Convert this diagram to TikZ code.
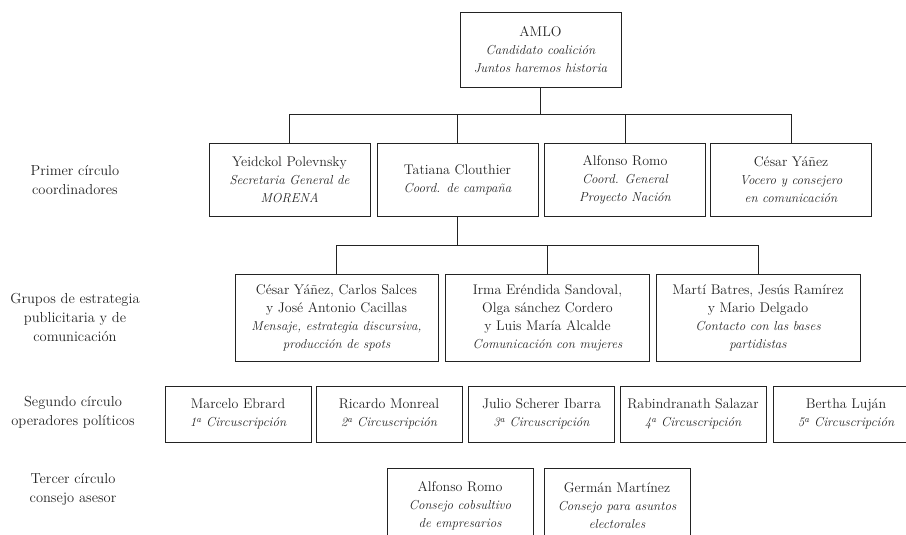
\documentclass[tikz,border=0pt]{standalone}
\usepackage{tikz}
\usetikzlibrary{positioning}
\definecolor{ink}{RGB}{35,35,35}
\tikzstyle{line} = [draw=ink, line width=0.9pt]
\newcommand{\cargo}[1]{{\itshape\fontsize{13}{18}\selectfont #1}}

\begin{document}
\begin{tikzpicture}[x=1pt, y=-1pt, node distance=150pt]
        \tikzstyle{block} = [rectangle, draw=ink, line width=0.9pt, align=center,
        inner sep=2pt, font=\fontsize{14}{18}\selectfont, text=ink]
        \tikzstyle{tier} = [align=center, font=\fontsize{14.5}{19}\selectfont, text=ink]

        \useasboundingbox (0,0) rectangle (906,535);

        % cabeza
        \node [block, minimum width=161pt, minimum height=75pt] (node0) at (540.5,49.5)
            {AMLO\\\cargo{Candidato coalición}\\\cargo{Juntos haremos historia}};

        % primer circulo
        \node [block, minimum width=161pt, minimum height=73pt] (node1) at (289.5,179.5)
            {Yeidckol Polevnsky\\\cargo{Secretaria General de}\\\cargo{MORENA}};
        \node [block, minimum width=161pt, minimum height=73pt, right of=node1, xshift=18pt] (node2)
            {Tatiana Clouthier\\\cargo{Coord. de campaña}};
        \node [block, minimum width=161pt, minimum height=73pt, right of=node2, xshift=17.5pt] (node3)
            {Alfonso Romo\\\cargo{Coord. General}\\\cargo{Proyecto Nación}};
        \node [block, minimum width=161pt, minimum height=73pt, right of=node3, xshift=16pt] (node4)
            {César Yáñez\\\cargo{Vocero y consejero}\\\cargo{en comunicación}};

        % grupos de estrategia
        \node [block, minimum width=203pt, minimum height=87pt] (node5) at (336.5,317.5)
            {César Yáñez, Carlos Salces\\y José Antonio Cacillas\\\cargo{Mensaje, estrategia discursiva,}\\\cargo{producción de spots}};
        \node [block, minimum width=204pt, minimum height=87pt, right of=node5, xshift=61pt] (node6)
            {Irma Eréndida Sandoval,\\Olga sánchez Cordero\\y Luis María Alcalde\\\cargo{Comunicación con mujeres}};
        \node [block, minimum width=204pt, minimum height=87pt, right of=node6, xshift=60.5pt] (node7)
            {Martí Batres, Jesús Ramírez\\y Mario Delgado\\\cargo{Contacto con las bases}\\\cargo{partidistas}};

        % segundo circulo
        \node [block, minimum width=146pt, minimum height=56pt] (node8) at (238,414)
            {Marcelo Ebrard\\\cargo{1\textsuperscript{a} Circuscripción}};
        \node [block, minimum width=146pt, minimum height=56pt, right of=node8, xshift=1pt] (node9)
            {Ricardo Monreal\\\cargo{2\textsuperscript{a} Circuscripción}};
        \node [block, minimum width=146pt, minimum height=56pt, right of=node9, xshift=2.5pt] (node10)
            {Julio Scherer Ibarra\\\cargo{3\textsuperscript{a} Circuscripción}};
        \node [block, minimum width=146pt, minimum height=56pt, right of=node10, xshift=1.5pt] (node11)
            {Rabindranath Salazar\\\cargo{4\textsuperscript{a} Circuscripción}};
        \node [block, minimum width=146pt, minimum height=56pt, right of=node11, xshift=3pt] (node12)
            {Bertha Luján\\\cargo{5\textsuperscript{a} Circuscripción}};

        % tercer circulo
        \node [block, minimum width=146pt, minimum height=75pt] (node13) at (460,505.5)
            {Alfonso Romo\\\cargo{Consejo cobsultivo}\\\cargo{de empresarios}};
        \node [block, minimum width=146pt, minimum height=75pt, right of=node13, xshift=7pt] (node14)
            {Germán Martínez\\\cargo{Consejo para asuntos}\\\cargo{electorales}};

        % niveles
        \node [tier] (tier1) at (75,180) {Primer círculo\\coordinadores};
        \node [tier] (tier2) at (75,317) {Grupos de estrategia\\publicitaria y de\\comunicación};
        \node [tier] (tier3) at (73,412) {Segundo círculo\\operadores políticos};
        \node [tier] (tier4) at (73,489) {Tercer círculo\\consejo asesor};

        \coordinate (bus1) at (0,114);
        \coordinate (bus2) at (0,245);

        \draw [line] (node0.south) -- (node0.south |- bus1);
        \draw [line] (node1.north) |- (bus1 -| node4) -- (node4.north);
        \draw [line] (node2.north) -- (node2.north |- bus1);
        \draw [line] (node3.north) -- (node3.north |- bus1);

        \draw [line] (node2.south) -- (node2.south |- bus2);
        \draw [line] (node5.north) |- (bus2 -| node7) -- (node7.north);
        \draw [line] (node6.north) -- (node6.north |- bus2);
    \end{tikzpicture}
\end{document}
